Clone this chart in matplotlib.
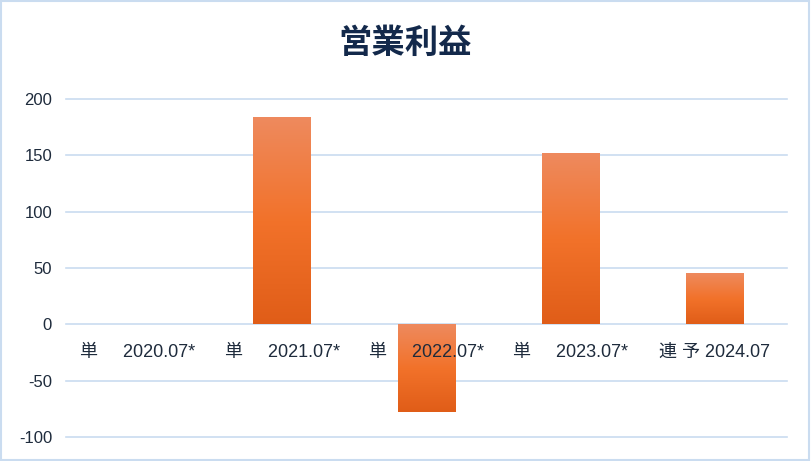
import numpy as np
import matplotlib
matplotlib.use("Agg")
import matplotlib.pyplot as plt
from matplotlib.colors import LinearSegmentedColormap
from matplotlib.patches import Rectangle

plt.rcParams["font.family"] = ["Liberation Sans", "Noto Sans CJK JP"]

# ---------------------------------------------------------------------------
# Data
# ---------------------------------------------------------------------------
title = "営業利益"
categories = [
    "単     2020.07*",
    "単     2021.07*",
    "単     2022.07*",
    "単     2023.07*",
    "連 予 2024.07",
]
values = [0, 183, -78, 151, 45]
yticks = [-100, -50, 0, 50, 100, 150, 200]

GRID = "#CADCF0"
TEXT = "#1E2B3C"
bar_cmap = LinearSegmentedColormap.from_list(
    "bar", ["#E05D18", "#F2722A", "#EE8A5E"])

fig = plt.figure(figsize=(8.11, 4.61), dpi=100)
ax = fig.add_axes([66 / 811, 24 / 461, 721 / 811, 338 / 461])

x = np.arange(len(categories))
width = 0.4
grad = np.linspace(0, 1, 256).reshape(-1, 1)
for xi, v in zip(x, values):
    if v == 0:
        continue
    lo, hi = min(0, v), max(0, v)
    ax.imshow(grad, cmap=bar_cmap, origin="lower", aspect="auto",
              extent=[xi - width / 2, xi + width / 2, lo, hi], zorder=2)

ax.set_xlim(-0.5, len(categories) - 0.5)
ax.set_ylim(yticks[0], yticks[-1])
ax.set_yticks(yticks)
ax.set_yticklabels([str(t) for t in yticks], fontsize=12, color=TEXT)
ax.tick_params(axis="y", length=0, pad=10)
ax.set_xticks([])
for t in yticks:
    ax.axhline(t, color=GRID, lw=1.2, zorder=1, clip_on=False)
for s in ax.spines.values():
    s.set_visible(False)

# category labels sit just under the zero line
for xi, lab in zip(x, categories):
    ax.annotate(lab, (xi, 0), xytext=(0, -20), textcoords="offset points",
                ha="center", va="center", fontsize=13, color=TEXT, zorder=5)

fig.text(0.5, 1 - 43 / 461, title, ha="center", va="center", fontsize=24,
         fontweight="bold", color="#13294B", family="Noto Sans CJK JP")

fig.patches.append(Rectangle((0.001, 0.002), 0.997, 0.995, transform=fig.transFigure,
                             fill=False, edgecolor=GRID, lw=1.5))

fig.savefig("out.png", dpi=100, facecolor="white")
